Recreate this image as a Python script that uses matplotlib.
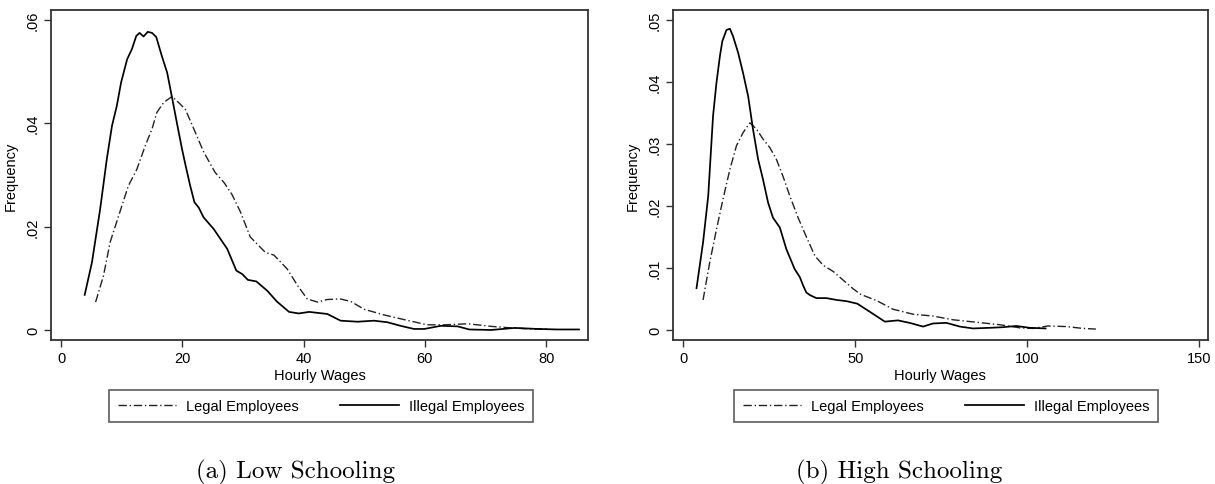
import matplotlib
matplotlib.use('Agg')
import matplotlib.pyplot as plt
from matplotlib.ticker import FuncFormatter

plt.rcParams['font.family'] = ['Liberation Sans', 'DejaVu Sans']

# Low schooling: kernel density of hourly wages
low_illegal_x = [3.9, 5.1, 6.45, 7.55, 8.4, 9.2, 9.9, 10.9, 11.7, 12.4, 12.95,
                 13.6, 14.3, 15.0, 15.7, 16.6, 17.5, 18.3, 19.1, 19.95, 20.6,
                 21.3, 22.0, 22.7, 23.5, 25.2, 26.3, 27.4, 28.9, 29.9, 30.8,
                 32.2, 34.0, 35.6, 37.6, 39.2, 40.9, 43.9, 46.1, 48.9, 51.6,
                 53.8, 56.0, 58.2, 59.9, 62.6, 65.4, 67.3, 70.9, 74.8, 78.6,
                 81.9, 85.4]
low_illegal_y = [.0068, .0131, .0234, .0331, .0395, .0434, .0479, .0524, .0544,
                 .0569, .0575, .0568, .0577, .0575, .0567, .0531, .0498, .0450,
                 .0401, .0350, .0315, .0279, .0247, .0237, .0218, .0195, .0176,
                 .0157, .0115, .0108, .0097, .0094, .0076, .0055, .0035, .0032,
                 .0035, .0031, .0018, .0016, .0018, .0015, .0008, .0002, .0002,
                 .0008, .0007, .0001, .0000, .0004, .0002, .0001, .0001]
low_legal_x = [5.7, 7.0, 8.1, 9.5, 11.1, 12.5, 13.9, 15.0, 15.8, 16.9, 18.3,
               19.4, 20.5, 21.9, 23.5, 25.4, 26.9, 28.2, 29.6, 31.2, 33.7,
               35.1, 37.3, 39.0, 40.6, 42.3, 43.9, 46.1, 47.8, 50.0, 53.3,
               56.6, 60.4, 63.2, 67.1, 70.9, 74.2, 77.5, 80.5]
low_legal_y = [.0054, .0105, .0170, .0221, .0279, .0311, .0357, .0389, .0421,
               .0440, .0452, .0440, .0427, .0389, .0345, .0305, .0285, .0262,
               .0228, .0180, .0150, .0145, .0118, .0086, .0060, .0054, .0059,
               .0060, .0055, .0040, .0029, .0020, .0010, .0010, .0012, .0007,
               .0004, .0002, .0002]

# High schooling
high_illegal_x = [3.9, 5.8, 7.3, 8.7, 9.7, 10.7, 11.4, 12.6, 13.6, 14.5, 16.0,
                  17.4, 18.9, 20.3, 21.8, 23.2, 24.7, 26.1, 28.1, 30.0, 32.4,
                  33.9, 34.9, 35.8, 36.8, 38.7, 41.6, 44.6, 47.5, 50.6, 54.5,
                  58.6, 62.4, 65.8, 69.7, 72.6, 76.5, 80.4, 84.2, 89.1, 92.9,
                  96.8, 100.7, 105.3]
high_illegal_y = [.0067, .0141, .0216, .0345, .0399, .0442, .0466, .0484, .0486,
                  .0474, .0447, .0415, .0377, .0324, .0275, .0243, .0205, .0181,
                  .0165, .0130, .0098, .0085, .0071, .0060, .0056, .0051, .0051,
                  .0048, .0046, .0042, .0028, .0013, .0015, .0011, .0005, .0010,
                  .0011, .0005, .0002, .0003, .0004, .0006, .0003, .0002]
high_legal_x = [5.8, 7.75, 9.7, 11.6, 13.6, 15.5, 17.4, 19.4, 21.3, 23.2, 25.2,
                27.1, 29.0, 31.0, 33.4, 35.8, 38.3, 40.7, 43.6, 46.5, 49.4,
                51.6, 56.2, 61.0, 66.8, 72.6, 78.4, 85.2, 92.0, 97.8, 101.7,
                106.0, 111.4, 116.2, 119.9]
high_legal_y = [.0048, .0109, .0162, .0211, .0259, .0297, .0318, .0334, .0324,
                .0308, .0294, .0275, .0248, .0216, .0181, .0150, .0119, .0104,
                .0094, .0080, .0066, .0057, .0047, .0033, .0025, .0022, .0016,
                .0012, .0008, .0003, .0002, .0006, .0005, .0002, .0001]

series_labels = ['Legal Employees', 'Illegal Employees']
captions = ['(a) Low Schooling', '(b) High Schooling']


def stata_fmt(v, pos):
    if abs(v) < 1e-12:
        return '0'
    return ('%g' % v).lstrip('0')


def density_panel(ax, legal_x, legal_y, illegal_x, illegal_y,
                  xticks, yticks, xlim, ylim, leg_box):
    ax.plot(legal_x, legal_y, color='#222222', lw=1.0,
            linestyle=(0, (6, 2, 1, 2)), label=series_labels[0])
    ax.plot(illegal_x, illegal_y, color='black', lw=1.25,
            label=series_labels[1])
    ax.set_xlim(xlim)
    ax.set_ylim(ylim)
    ax.set_xticks(xticks)
    ax.set_yticks(yticks)
    ax.yaxis.set_major_formatter(FuncFormatter(stata_fmt))
    ax.tick_params(axis='both', direction='out', length=5, width=1,
                   color='#333333', labelsize=10.5, pad=3)
    for lab in ax.get_yticklabels():
        lab.set_rotation(90)
        lab.set_va('center')
    for s in ax.spines.values():
        s.set_color('#333333')
        s.set_linewidth(1.3)
    ax.set_xlabel('Hourly Wages', fontsize=10.5, labelpad=2)
    ax.set_ylabel('Frequency', fontsize=10.5, labelpad=6)
    leg = ax.legend(loc='upper left', bbox_to_anchor=leg_box, mode='expand',
                    ncol=2, fontsize=10.5, frameon=True, fancybox=False,
                    handlelength=4.0, handletextpad=0.7, borderpad=0.6,
                    borderaxespad=0, columnspacing=1.5)
    leg.get_frame().set_edgecolor('#333333')
    leg.get_frame().set_linewidth(1.2)


fig = plt.figure(figsize=(12.15, 4.85), dpi=100)
ax1 = fig.add_axes([0.042, 0.297, 0.442, 0.680])
ax2 = fig.add_axes([0.554, 0.297, 0.440, 0.680])

density_panel(ax1, low_legal_x, low_legal_y, low_illegal_x, low_illegal_y,
              [0, 20, 40, 60, 80], [0, .02, .04, .06],
              (-1.65, 86.9), (-0.00193, 0.0619),
              (0.108, -0.152, 0.79, 0.0))
density_panel(ax2, high_legal_x, high_legal_y, high_illegal_x, high_illegal_y,
              [0, 50, 100, 150], [0, .01, .02, .03, .04, .05],
              (-2.9, 152.4), (-0.00166, 0.0516),
              (0.114, -0.152, 0.793, 0.0))

fig.text(0.243, 0.0144, captions[0], ha='center', va='baseline',
         fontsize=18, family='cmr10')
fig.text(0.74, 0.0144, captions[1], ha='center', va='baseline',
         fontsize=18, family='cmr10')

fig.savefig('out.png', dpi=100)
